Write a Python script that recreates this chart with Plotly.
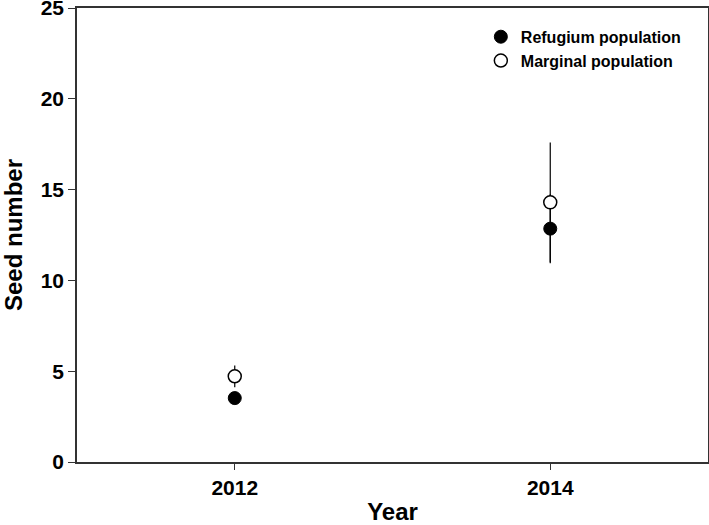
import plotly.graph_objects as go

# -----------------------------
# Data
# -----------------------------
years = [2012, 2014]
year_labels = ["2012", "2014"]

refugium_mean = [3.52, 12.85]
refugium_err = [0.35, 1.9]

marginal_mean = [4.72, 14.3]
marginal_err = [0.6, 3.3]

y_ticks = [0, 5, 10, 15, 20, 25]

FONT = "Arial, Liberation Sans, sans-serif"


# -----------------------------
# Build figure
# -----------------------------
fig = go.Figure()

fig.add_trace(go.Scatter(
    x=years,
    y=refugium_mean,
    mode="markers",
    name="Refugium population",
    marker=dict(symbol="circle", size=13, color="black",
                line=dict(color="black", width=1)),
    error_y=dict(type="data", array=refugium_err, color="black",
                 thickness=1.2, width=0),
))

fig.add_trace(go.Scatter(
    x=years,
    y=marginal_mean,
    mode="markers",
    name="Marginal population",
    marker=dict(symbol="circle", size=13, color="white",
                line=dict(color="black", width=1.5)),
    error_y=dict(type="data", array=marginal_err, color="black",
                 thickness=1.2, width=0),
))

fig.update_layout(
    width=709,
    height=525,
    paper_bgcolor="white",
    plot_bgcolor="white",
    margin=dict(l=77, r=1, t=8, b=63, autoexpand=False),
    font=dict(family=FONT, color="black"),
    showlegend=True,
    legend=dict(
        x=0.64, y=0.974, xanchor="left", yanchor="top",
        bgcolor="rgba(0,0,0,0)",
        font=dict(family=FONT, size=16, color="black", weight="bold"),
        itemwidth=30,
        tracegroupgap=0,
    ),
    xaxis=dict(
        range=[2011, 2015],
        tickvals=years,
        ticktext=year_labels,
        automargin=False,
        showgrid=False,
        zeroline=False,
        showline=True, linecolor="#333", linewidth=1.5, mirror=True,
        ticks="outside", ticklen=6, tickcolor="#333", tickwidth=1.2,
        tickfont=dict(size=21, family=FONT, weight="bold"),
        title=dict(text="Year", standoff=18,
                   font=dict(size=24, family=FONT, weight="bold")),
    ),
    yaxis=dict(
        range=[0, 25],
        tickvals=y_ticks,
        automargin=False,
        ticklabeloverflow="allow",
        showgrid=False,
        zeroline=False,
        showline=True, linecolor="#333", linewidth=1.5, mirror=True,
        ticks="outside", ticklen=7, tickcolor="#333", tickwidth=1.2,
        tickfont=dict(size=21, family=FONT, weight="bold"),
        title=dict(text="Seed number", standoff=12,
                   font=dict(size=24, family=FONT, weight="bold")),
    ),
)

# drop the browser's default page margin so the figure sits at (0, 0)
fig.write_html(
    "out.html",
    config={"displayModeBar": False},
    post_script="document.body.style.margin='0';",
)
